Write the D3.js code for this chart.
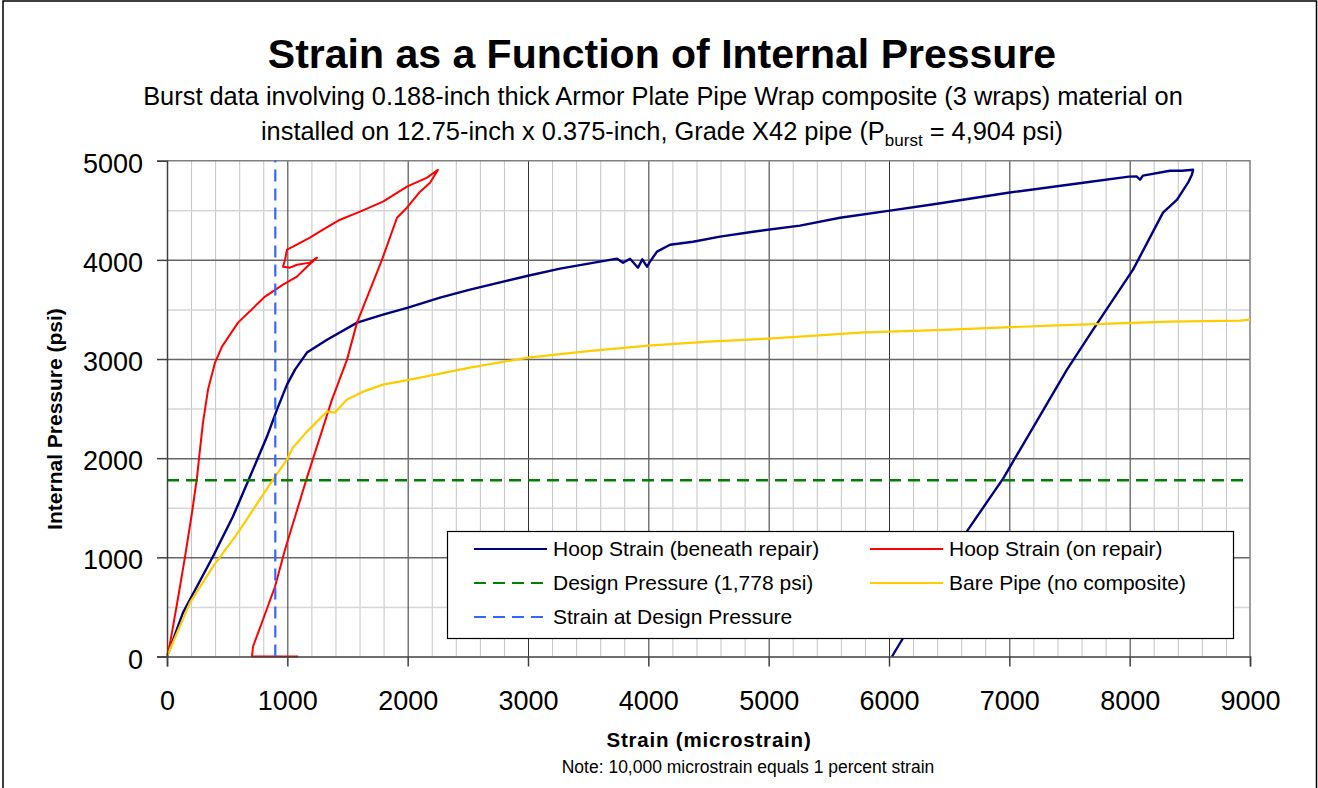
<!DOCTYPE html>
<html>
<head>
<style>
  body { margin: 0; background: #fff; }
  svg text { font-family: "Liberation Sans", Arial, sans-serif; fill: #000; }
</style>
</head>
<body>
<svg id="chart" width="1318" height="788"></svg>
<script src="https://cdnjs.cloudflare.com/ajax/libs/d3/7.8.5/d3.min.js"></script>
<script>
// values: [strain (microstrain), pressure (psi)]
const hoopBeneath = [
  [0, 0], [133, 443], [249, 706], [382, 1008], [548, 1411], [690, 1815], [831, 2218],
  [914, 2490], [997, 2742], [1064, 2893], [1163, 3065], [1330, 3195], [1580, 3367],
  [1795, 3448], [2003, 3518], [2269, 3619], [2518, 3700], [3000, 3840], [3266, 3911],
  [3598, 3982], [3740, 4012], [3790, 3970], [3848, 4012], [3914, 3921], [3950, 4005],
  [3989, 3931], [4014, 3982], [4072, 4083], [4180, 4153], [4371, 4183], [4596, 4234],
  [4870, 4284], [5260, 4345], [5593, 4425], [6008, 4496], [6400, 4566], [6990, 4677],
  [7614, 4778], [7994, 4839], [8060, 4840], [8086, 4808], [8110, 4850], [8335, 4899],
  [8435, 4899], [8527, 4909], [8518, 4860], [8485, 4778], [8394, 4607], [8277, 4476],
  [8028, 3901], [7696, 3296], [7479, 2893], [6948, 1794], [6657, 1280], [6025, 0]
];
const hoopOnRepair = [
  [0, 0], [20, 100], [50, 302], [108, 706], [150, 1008], [208, 1452], [249, 1804],
  [274, 2087], [299, 2359], [341, 2692], [399, 2964], [457, 3125], [590, 3367],
  [815, 3630], [964, 3750], [1080, 3831], [1163, 3931], [1246, 4022], [1188, 3972],
  [1080, 3951], [1022, 3921], [964, 3931], [981, 4002], [997, 4103], [1047, 4133],
  [1188, 4224], [1296, 4304], [1438, 4405], [1604, 4486], [1795, 4587], [1994, 4738],
  [2161, 4829], [2252, 4909], [2186, 4778], [2103, 4688], [1994, 4526], [1911, 4425],
  [1787, 4002], [1579, 3367], [1496, 2994], [1371, 2591], [1163, 1804], [981, 1079],
  [898, 706], [798, 373], [715, 101], [706, 0], [740, 0], [1090, 0]
];
const barePipe = [
  [0, 0], [191, 544], [382, 907], [590, 1250], [881, 1784], [997, 1986], [1047, 2107],
  [1163, 2268], [1330, 2470], [1396, 2460], [1496, 2591], [1629, 2671], [1795, 2742],
  [2019, 2792], [2518, 2913], [3000, 3014], [3500, 3080], [4000, 3135], [4500, 3175],
  [5000, 3206], [5260, 3226], [5759, 3266], [6507, 3296], [7338, 3337], [7837, 3357],
  [8335, 3377], [8917, 3387], [9000, 3397]
];
const designPressure = [[0, 1778], [9000, 1778]];
const designStrain = [[900, 0], [900, 5000]];

const xTicks = [0, 1000, 2000, 3000, 4000, 5000, 6000, 7000, 8000, 9000];
const yTicks = [0, 1000, 2000, 3000, 4000, 5000];
const legendLabels = [
  "Hoop Strain (beneath repair)", "Hoop Strain (on repair)",
  "Design Pressure (1,778 psi)", "Bare Pipe (no composite)",
  "Strain at Design Pressure"
];

const svg = d3.select("#chart");
const plotLeft = 167, plotRight = 1250, plotTop = 160.7, plotBottom = 656.5;

const x = d3.scaleLinear().domain([0, 9000]).range([plotLeft, plotRight]);
const y = d3.scaleLinear().domain([0, 5000]).range([plotBottom, plotTop]);

// outer frame
svg.append("rect")
  .attr("x", 3).attr("y", 1).attr("width", 1313.5).attr("height", 800)
  .attr("fill", "none").attr("stroke", "#000").attr("stroke-width", 1.5);

// minor grid
const minorX = d3.range(200, 9000, 200).filter(v => v % 1000 !== 0);
const minorY = d3.range(500, 5000, 1000);

svg.append("g")
  .attr("transform", `translate(0,${plotBottom})`)
  .call(d3.axisBottom(x).tickValues(minorX).tickSize(-(plotBottom - plotTop)).tickFormat(""))
  .call(g => g.select(".domain").remove())
  .call(g => g.selectAll("line").attr("stroke", "#c4c4c4"));

svg.append("g")
  .attr("transform", `translate(${plotLeft},0)`)
  .call(d3.axisLeft(y).tickValues(minorY).tickSize(-(plotRight - plotLeft)).tickFormat(""))
  .call(g => g.select(".domain").remove())
  .call(g => g.selectAll("line").attr("stroke", "#d6d6d6").attr("stroke-width", 1.5));

// major grid
svg.append("g")
  .attr("transform", `translate(0,${plotBottom})`)
  .call(d3.axisBottom(x).tickValues(xTicks.slice(1, -1)).tickSize(-(plotBottom - plotTop)).tickFormat(""))
  .call(g => g.select(".domain").remove())
  .call(g => g.selectAll("line").attr("stroke", "#333"));

svg.append("g")
  .attr("transform", `translate(${plotLeft},0)`)
  .call(d3.axisLeft(y).tickValues(yTicks.slice(1, -1)).tickSize(-(plotRight - plotLeft)).tickFormat(""))
  .call(g => g.select(".domain").remove())
  .call(g => g.selectAll("line").attr("stroke", "#666").attr("stroke-width", 1.5));

// plot frame top / right
svg.append("path")
  .attr("d", `M${plotLeft},${plotTop}H${plotRight}V${plotBottom}`)
  .attr("fill", "none").attr("stroke", "#808080").attr("stroke-width", 1.5);

// series
const line = d3.line().x(d => x(d[0])).y(d => y(d[1]));

const series = [
  { data: hoopBeneath, color: "#000080", width: 2.4, dash: null },
  { data: hoopOnRepair, color: "#ff0000", width: 2, dash: null },
  { data: designPressure, color: "#008000", width: 2.4, dash: "12,7" },
  { data: barePipe, color: "#ffcc00", width: 2.2, dash: null },
  { data: designStrain, color: "#3366ff", width: 2.2, dash: "12,7" }
];

series.forEach(s => {
  svg.append("path")
    .datum(s.data)
    .attr("d", line)
    .attr("fill", "none")
    .attr("stroke", s.color)
    .attr("stroke-width", s.width)
    .attr("stroke-linejoin", "round")
    .attr("stroke-dasharray", s.dash);
});

// axes
const yAxis = svg.append("g")
  .attr("transform", `translate(${plotLeft},0)`)
  .call(d3.axisLeft(y).tickValues(yTicks).tickSize(10).tickPadding(14).tickFormat(d3.format("d")));
yAxis.selectAll("text").attr("font-size", 27).attr("dy", "0.43em");
yAxis.selectAll("line, .domain").attr("stroke", "#404040").attr("stroke-width", 1.5);

const xAxis = svg.append("g")
  .attr("transform", `translate(0,${plotBottom})`)
  .call(d3.axisBottom(x).tickValues(xTicks).tickSize(10).tickPadding(24).tickFormat(d3.format("d")));
xAxis.selectAll("text").attr("font-size", 27);
xAxis.selectAll("line, .domain").attr("stroke", "#404040").attr("stroke-width", 1.5);
svg.selectAll("g[font-family]").attr("font-family", null);
svg.selectAll(".tick text").attr("fill", "#000");

// legend
const lg = svg.append("g");
lg.append("rect")
  .attr("x", 447.5).attr("y", 531.5).attr("width", 786).attr("height", 107)
  .attr("fill", "#fff").attr("stroke", "#000").attr("stroke-width", 1.2);

const legendPos = [[474, 549], [870, 549], [474, 583], [870, 583], [474, 617]];
legendLabels.forEach((label, i) => {
  const [lx, ly] = legendPos[i];
  const s = series[i];
  lg.append("line")
    .attr("x1", lx).attr("x2", lx + 73).attr("y1", ly).attr("y2", ly)
    .attr("stroke", s.color).attr("stroke-width", 2.2)
    .attr("stroke-dasharray", s.dash);
  lg.append("text")
    .attr("x", lx + 79).attr("y", ly + 7)
    .attr("font-size", 21)
    .text(label);
});

// titles
svg.append("text")
  .attr("x", 662).attr("y", 68)
  .attr("text-anchor", "middle")
  .attr("font-size", 41).attr("font-weight", "bold")
  .text("Strain as a Function of Internal Pressure");

svg.append("text")
  .attr("x", 663).attr("y", 105)
  .attr("text-anchor", "middle")
  .attr("font-size", 25.4)
  .text("Burst data involving 0.188-inch thick Armor Plate Pipe Wrap composite (3 wraps) material on");

const sub2 = svg.append("text")
  .attr("x", 662).attr("y", 140)
  .attr("text-anchor", "middle")
  .attr("font-size", 25.4);
sub2.append("tspan").text("installed on 12.75-inch x 0.375-inch, Grade X42 pipe (P");
sub2.append("tspan").attr("font-size", 17).attr("dy", 6).text("burst");
sub2.append("tspan").attr("dy", -6).text(" = 4,904 psi)");

svg.append("text")
  .attr("x", 709).attr("y", 747)
  .attr("text-anchor", "middle")
  .attr("font-size", 20.5).attr("font-weight", "bold")
  .attr("letter-spacing", 0.8)
  .text("Strain (microstrain)");

svg.append("text")
  .attr("x", 748).attr("y", 773)
  .attr("text-anchor", "middle")
  .attr("font-size", 17.5)
  .text("Note: 10,000 microstrain equals 1 percent strain");

svg.append("text")
  .attr("transform", "translate(62,419) rotate(-90)")
  .attr("text-anchor", "middle")
  .attr("font-size", 21).attr("font-weight", "bold")
  .text("Internal Pressure (psi)");
</script>
</body>
</html>
